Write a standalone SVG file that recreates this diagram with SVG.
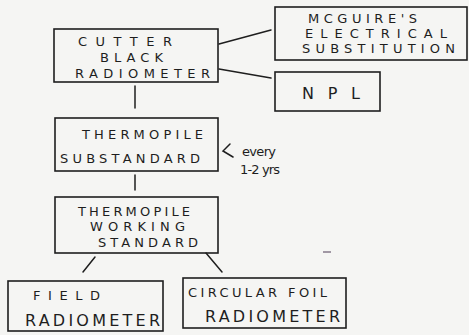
<svg xmlns="http://www.w3.org/2000/svg" width="469" height="335" viewBox="0 0 469 335">
<style>
.bx{fill:none;stroke:#1e1e1e;stroke-width:1.6;stroke-linecap:round}
.cn{fill:none;stroke:#1e1e1e;stroke-width:1.5;stroke-linecap:round}
.t{font-family:"DejaVu Sans","Liberation Sans",sans-serif;font-size:13px;fill:#1e1e1e}
.tb{font-family:"DejaVu Sans","Liberation Sans",sans-serif;font-size:16px;fill:#1e1e1e}
</style>
<rect width="469" height="335" fill="#f5f5f3"/>
<g id="connectors">
<line class="cn" x1="219" y1="44" x2="271" y2="30"/>
<line class="cn" x1="219" y1="69" x2="271" y2="78"/>
<line class="cn" x1="135" y1="86" x2="135" y2="108"/>
<line class="cn" x1="135" y1="175" x2="135" y2="190"/>
<line class="cn" x1="95" y1="257" x2="83" y2="272"/>
<line class="cn" x1="206" y1="253" x2="222" y2="272"/>
<polyline class="cn" points="230,144 223,151 233,157"/>
<line x1="323" y1="252" x2="331" y2="252" stroke="#6a5a70" stroke-width="1.2"/>
</g>
<g id="n1">
<rect class="bx" x="54" y="29" width="164" height="53"/>
<text class="t" x="78" y="46" textLength="94" lengthAdjust="spacing">CUTTER</text>
<text class="t" x="100" y="62" textLength="63" lengthAdjust="spacing">BLACK</text>
<text class="t" x="75" y="78" textLength="135" lengthAdjust="spacing">RADIOMETER</text>
</g>
<g id="n2">
<rect class="bx" x="275" y="7" width="192" height="53"/>
<text class="t" x="308" y="23" textLength="109" lengthAdjust="spacing">MCGUIRE'S</text>
<text class="t" x="305" y="38" textLength="142" lengthAdjust="spacing">ELECTRICAL</text>
<text class="t" x="302" y="53" textLength="153" lengthAdjust="spacing">SUBSTITUTION</text>
</g>
<g id="n3">
<rect class="bx" x="275" y="72" width="105" height="39"/>
<text class="tb" x="302" y="99" textLength="58" lengthAdjust="spacing">NPL</text>
</g>
<g id="n4">
<rect class="bx" x="55" y="118" width="163" height="53"/>
<text class="t" x="82" y="139" textLength="121" lengthAdjust="spacing">THERMOPILE</text>
<text class="t" x="60" y="163" textLength="140" lengthAdjust="spacing">SUBSTANDARD</text>
</g>
<g id="note">
<text class="t" x="242" y="156" textLength="34" lengthAdjust="spacing">every</text>
<text class="t" x="240" y="174" textLength="40" lengthAdjust="spacing">1-2 yrs</text>
</g>
<g id="n5">
<rect class="bx" x="55" y="197" width="163" height="56"/>
<text class="t" x="78" y="216" textLength="112" lengthAdjust="spacing">THERMOPILE</text>
<text class="t" x="90" y="231" textLength="95" lengthAdjust="spacing">WORKING</text>
<text class="t" x="98" y="247" textLength="100" lengthAdjust="spacing">STANDARD</text>
</g>
<g id="n6">
<rect class="bx" x="8" y="281" width="155" height="50"/>
<text class="t" x="33" y="300" textLength="67" lengthAdjust="spacing">FIELD</text>
<text class="tb" x="25" y="326" textLength="135" lengthAdjust="spacing">RADIOMETER</text>
</g>
<g id="n7">
<rect class="bx" x="183" y="278" width="163" height="50"/>
<text class="t" x="188" y="297" textLength="139" lengthAdjust="spacing">CIRCULAR FOIL</text>
<text class="tb" x="205" y="322" textLength="135" lengthAdjust="spacing">RADIOMETER</text>
</g>
</svg>
